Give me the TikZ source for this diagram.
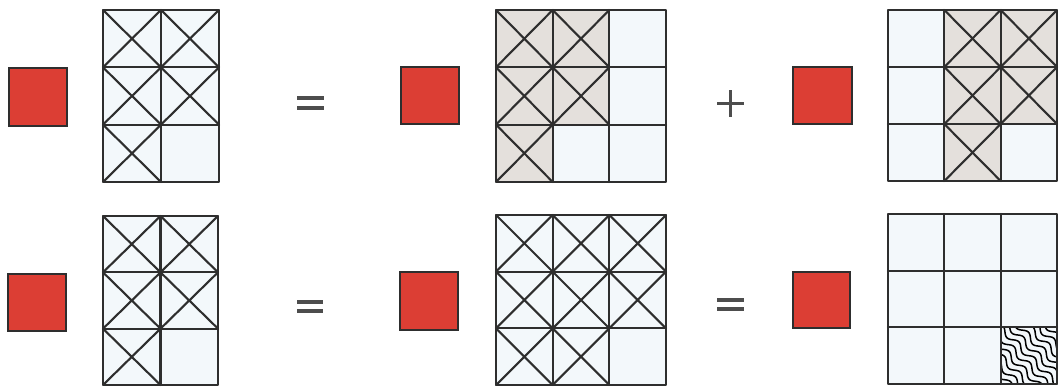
\documentclass[tikz,border=0pt]{standalone}
\definecolor{cellbg}{HTML}{F3F8FB}
\definecolor{shadegray}{HTML}{E4E0DC}
\definecolor{redsq}{HTML}{DC3E34}
\definecolor{ink}{HTML}{2E2E2E}
\tikzset{
  gridline/.style={draw=ink,line width=2.1pt,line cap=round,line join=round},
  redbox/.style={fill=redsq,draw=ink,line width=1.5pt},
  opbar/.style={draw=ink!85,line width=3.8pt},
  wave/.style={draw=black,line width=1.5pt}
}
% #1 x0, #2 y0, #3 cell width, #4 cell height, #5 cols, #6 rows, #7 cells col/row/fill/cross
\newcommand\mygrid[7]{%
  \foreach \cc/\rr/\ff/\xx in {#7}{%
    \fill[fill=\ff] ({#1+\cc*#3},{#2+\rr*#4}) rectangle ++(#3,#4);
    \ifnum\xx=1 \draw[gridline] ({#1+\cc*#3},{#2+\rr*#4}) -- ++(#3,#4) ({#1+(\cc+1)*#3},{#2+\rr*#4}) -- ++(-#3,#4);\fi
  }%
  \pgfmathsetmacro\myW{#5*#3}\pgfmathsetmacro\myH{#6*#4}%
  \pgfmathtruncatemacro\myNc{#5-1}\pgfmathtruncatemacro\myNr{#6-1}%
  \foreach \i in {1,...,\myNc}{\draw[gridline] ({#1+\i*#3},#2) -- ++(0,\myH);}
  \foreach \j in {1,...,\myNr}{\draw[gridline] (#1,{#2+\j*#4}) -- ++(\myW,0);}
  \draw[gridline] (#1,#2) rectangle ++(\myW,\myH);
}
\begin{document}
\begin{tikzpicture}[x=1pt,y=-1pt]
\useasboundingbox (0,0) rectangle (1059,386);
\fill[white] (0,0) rectangle (1059,386);

% ---------- row 1 ----------
\draw[redbox] (9,68) rectangle (67,126);
\mygrid{103}{10}{58}{57.33}{2}{3}{0/0/cellbg/1,1/0/cellbg/1,0/1/cellbg/1,1/1/cellbg/1,0/2/cellbg/1,1/2/cellbg/0}
\draw[opbar] (297,98) -- (324,98) (297,108) -- (324,108);

\draw[redbox] (401,67) rectangle (459,124);
\mygrid{496}{10}{56.67}{57.33}{3}{3}{0/0/shadegray/1,1/0/shadegray/1,2/0/cellbg/0,0/1/shadegray/1,1/1/shadegray/1,2/1/cellbg/0,0/2/shadegray/1,1/2/cellbg/0,2/2/cellbg/0}
\draw[opbar] (717,103.5) -- (744,103.5) (730.5,90) -- (730.5,117);

\draw[redbox] (793,67) rectangle (852,124);
\mygrid{888}{10}{56.33}{57}{3}{3}{0/0/cellbg/0,1/0/shadegray/1,2/0/shadegray/1,0/1/cellbg/0,1/1/shadegray/1,2/1/shadegray/1,0/2/cellbg/0,1/2/shadegray/1,2/2/cellbg/0}

% ---------- row 2 ----------
\draw[redbox] (8,274) rectangle (66,331);
\mygrid{103}{216}{57.5}{56.33}{2}{3}{0/0/cellbg/1,1/0/cellbg/1,0/1/cellbg/1,1/1/cellbg/1,0/2/cellbg/1,1/2/cellbg/0}
\draw[opbar] (297,302) -- (323,302) (297,311) -- (323,311);

\draw[redbox] (400,272) rectangle (458,330);
\mygrid{496}{215}{56.67}{56.67}{3}{3}{0/0/cellbg/1,1/0/cellbg/1,2/0/cellbg/1,0/1/cellbg/1,1/1/cellbg/1,2/1/cellbg/1,0/2/cellbg/1,1/2/cellbg/1,2/2/cellbg/0}
\draw[opbar] (717,300) -- (744,300) (717,309) -- (744,309);

\draw[redbox] (793,272) rectangle (850,328);
\mygrid{888}{214}{56.33}{56.67}{3}{3}{0/0/cellbg/0,1/0/cellbg/0,2/0/cellbg/0,0/1/cellbg/0,1/1/cellbg/0,2/1/cellbg/0,0/2/cellbg/0,1/2/cellbg/0,2/2/cellbg/0}
% wavy cell
\begin{scope}
  \clip (1000.67,327.33) rectangle (1057,384);
  \foreach \k in {-7,...,7}{
    \draw[wave] plot[variable=\t,domain=-50:50,samples=90,smooth]
      ({1028.8 + \t*0.7071 + (\k*6.8+2.8*sin(16*\t))*0.7071},
       {355.7 + \t*0.7071 - (\k*6.8+2.8*sin(16*\t))*0.7071});
  }
\end{scope}
\draw[gridline] (1000.67,327.33) rectangle (1057,384);
\end{tikzpicture}
\end{document}
